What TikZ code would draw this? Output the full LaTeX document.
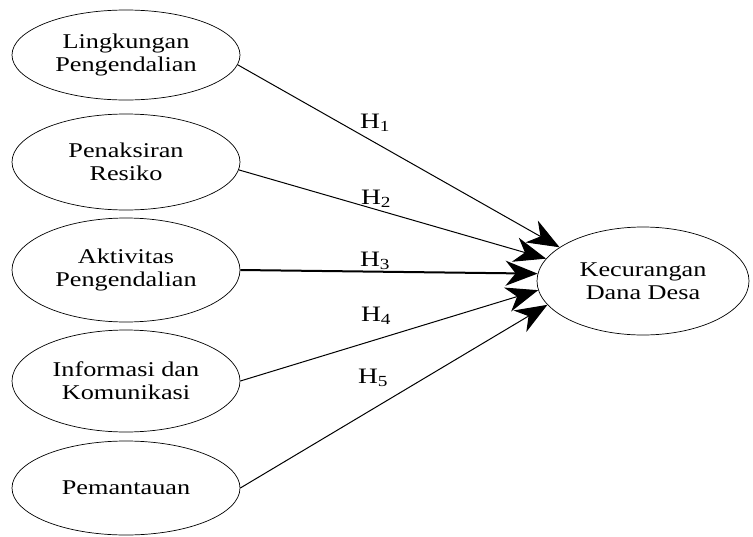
\documentclass[tikz,border=0pt]{standalone}
\usepackage{fontspec}
\setmainfont[FakeStretch=1.25]{Liberation Serif}
\usetikzlibrary{shapes.geometric,arrows.meta}
\begin{document}
\begin{tikzpicture}[x=1pt,y=-1pt,
  var/.style={ellipse,draw,line width=0.7pt,inner sep=0pt,minimum width=228pt,
    align=center,font=\fontsize{21}{23}\selectfont},
  path/.style={draw,line width=1pt,-{Stealth[length=32pt,width=25pt,inset=10pt]}},
  hyp/.style={font=\fontsize{22}{24}\selectfont}]
\useasboundingbox (0,0) rectangle (753,536);
\node[var,minimum height=90pt] (e1) at (126,55) {Lingkungan\\Pengendalian};
\node[var,minimum height=96pt] (e2) at (126,162) {Penaksiran\\Resiko};
\node[var,minimum height=104pt] (e3) at (126,270) {Aktivitas\\Pengendalian};
\node[var,minimum height=102pt] (e4) at (126,381) {Informasi dan\\Komunikasi};
\node[var,minimum height=94pt] (e5) at (126,488) {Pemantauan};
\node[var,minimum width=212pt,minimum height=108pt] (y) at (643,281) {Kecurangan\\Dana Desa};
\draw[path] (e1.-5) -- (y.158);
\draw[path] (e2.-4) -- (y.167);
\draw[path,line width=2pt] (e3.east) -- (y.176);
\draw[path] (e4.east) -- (y.185);
\draw[path] (e5.east) -- (y.194);
\node[hyp] (h1) at (375,123) {H\textsubscript{1}};
\node[hyp] (h2) at (376,199) {H\textsubscript{2}};
\node[hyp] (h3) at (375,261) {H\textsubscript{3}};
\node[hyp] (h4) at (376,316) {H\textsubscript{4}};
\node[hyp] (h5) at (373,378) {H\textsubscript{5}};
\end{tikzpicture}
\end{document}
